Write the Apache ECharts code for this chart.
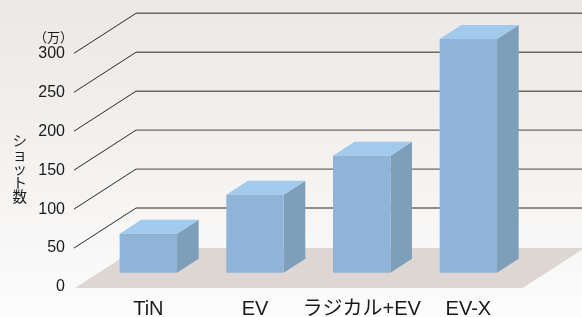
<!DOCTYPE html>
<html><head><meta charset="utf-8">
<script src="https://cdn.jsdelivr.net/npm/echarts@6/dist/echarts.min.js"></script>
<style>html,body{margin:0;padding:0;}#c{width:582px;height:317px;}</style>
</head><body><div id="c"></div>
<script>
const categories = ['TiN', 'EV', 'ラジカル+EV', 'EV-X'];
const shots = [50, 100, 150, 300];
const yTicks = [0, 50, 100, 150, 200, 250, 300];
const yTitle = 'シ\nョ\nッ\nト\n数';
const unitLabel = '（万）';

const FONT = "'Liberation Sans', 'Noto Sans CJK JP', sans-serif";
const DEPTH = [62, -40];       // full floor depth offset
const BAR_NEAR = [21, -14.3];  // bar front face offset
const BAR_D = [21.6, -14];     // bar depth
const chart = echarts.init(document.getElementById('c'), null, {renderer: 'canvas'});

chart.setOption({
  animation: false,
  backgroundColor: {type: 'linear', x: 0, y: 0, x2: 0, y2: 1,
    colorStops: [{offset: 0, color: '#ebe8e5'}, {offset: 1, color: '#fcfcfc'}]},
  grid: {left: 74, right: 81.3, top: 53.3, bottom: 30, containLabel: false, outerBoundsMode: 'none'},
  xAxis: {type: 'category', data: categories,
    axisLine: {show: false}, axisTick: {show: false},
    axisLabel: {interval: 0, fontSize: 20, color: '#1a1a1a', fontFamily: FONT, margin: 12, padding: [0, 0, 0, 42]}},
  yAxis: {type: 'value', min: 0, max: 300, interval: 50,
    axisLine: {show: false}, axisTick: {show: false}, splitLine: {show: false},
    axisLabel: {fontSize: 16, color: '#1a1a1a', fontFamily: FONT, margin: 9},
    name: yTitle, nameLocation: 'middle', nameGap: 47, nameRotate: 0,
    nameTextStyle: {fontSize: 14.5, color: '#1a1a1a', fontFamily: FONT, lineHeight: 14, padding: [0, 0, 34, 0]}},
  graphic: [{type: 'text', left: 34, top: 32,
    style: {text: unitLabel, fontSize: 13, fill: '#1a1a1a', fontFamily: FONT}}],
  series: [
    {type: 'custom', z: 1, silent: true, data: [[0, 0]],
      renderItem: function (params, api) {
        const cs = params.coordSys;
        const y0 = api.coord([0, 0])[1] + 1;
        const xl = cs.x + 1, xr = cs.x + cs.width + 22;
        return {type: 'polygon', shape: {points: [[xl, y0], [xl + DEPTH[0], y0 + DEPTH[1]],
          [xr + DEPTH[0], y0 + DEPTH[1]], [xr, y0]]}, style: {fill: '#ddd6d2'}};
      }},
    {type: 'custom', z: 2, silent: true, data: yTicks.map(v => [0, v]),
      renderItem: function (params, api) {
        const v = api.value(1);
        if (v === 0) return null;
        const cs = params.coordSys;
        const y = api.coord([0, v])[1];
        const x0 = cs.x;
        return {type: 'group', children: [
          {type: 'line', shape: {x1: x0, y1: y, x2: x0 + DEPTH[0], y2: y + DEPTH[1]},
            style: {stroke: '#2a2a2a', lineWidth: 1}},
          {type: 'line', shape: {x1: x0 + DEPTH[0], y1: y + DEPTH[1], x2: api.getWidth(), y2: y + DEPTH[1]},
            style: {stroke: '#6b6866', lineWidth: 1.4}}
        ]};
      }},
    {type: 'custom', z: 3, data: shots.map((v, i) => [i, v]),
      renderItem: function (params, api) {
        const top = api.coord([api.value(0), api.value(1)]);
        const bot = api.coord([api.value(0), 0]);
        const w = api.size([1, 0])[0] * 0.538;
        const xl = top[0] - w / 2 + BAR_NEAR[0], xr = top[0] + w / 2 + BAR_NEAR[0];
        const yt = top[1] + BAR_NEAR[1], yb = bot[1] + BAR_NEAR[1];
        const dx = BAR_D[0], dy = BAR_D[1];
        return {type: 'group', children: [
          {type: 'polygon', shape: {points: [[xr, yt], [xr + dx, yt + dy], [xr + dx, yb + dy], [xr, yb]]},
            style: {fill: '#7e9fba'}},
          {type: 'polygon', shape: {points: [[xl, yt], [xl + dx, yt + dy], [xr + dx, yt + dy], [xr, yt]]},
            style: {fill: '#a1caec'}},
          {type: 'rect', shape: {x: xl, y: yt, width: xr - xl, height: yb - yt},
            style: {fill: '#8fb4d7'}}
        ]};
      }}
  ]
});
</script></body></html>
